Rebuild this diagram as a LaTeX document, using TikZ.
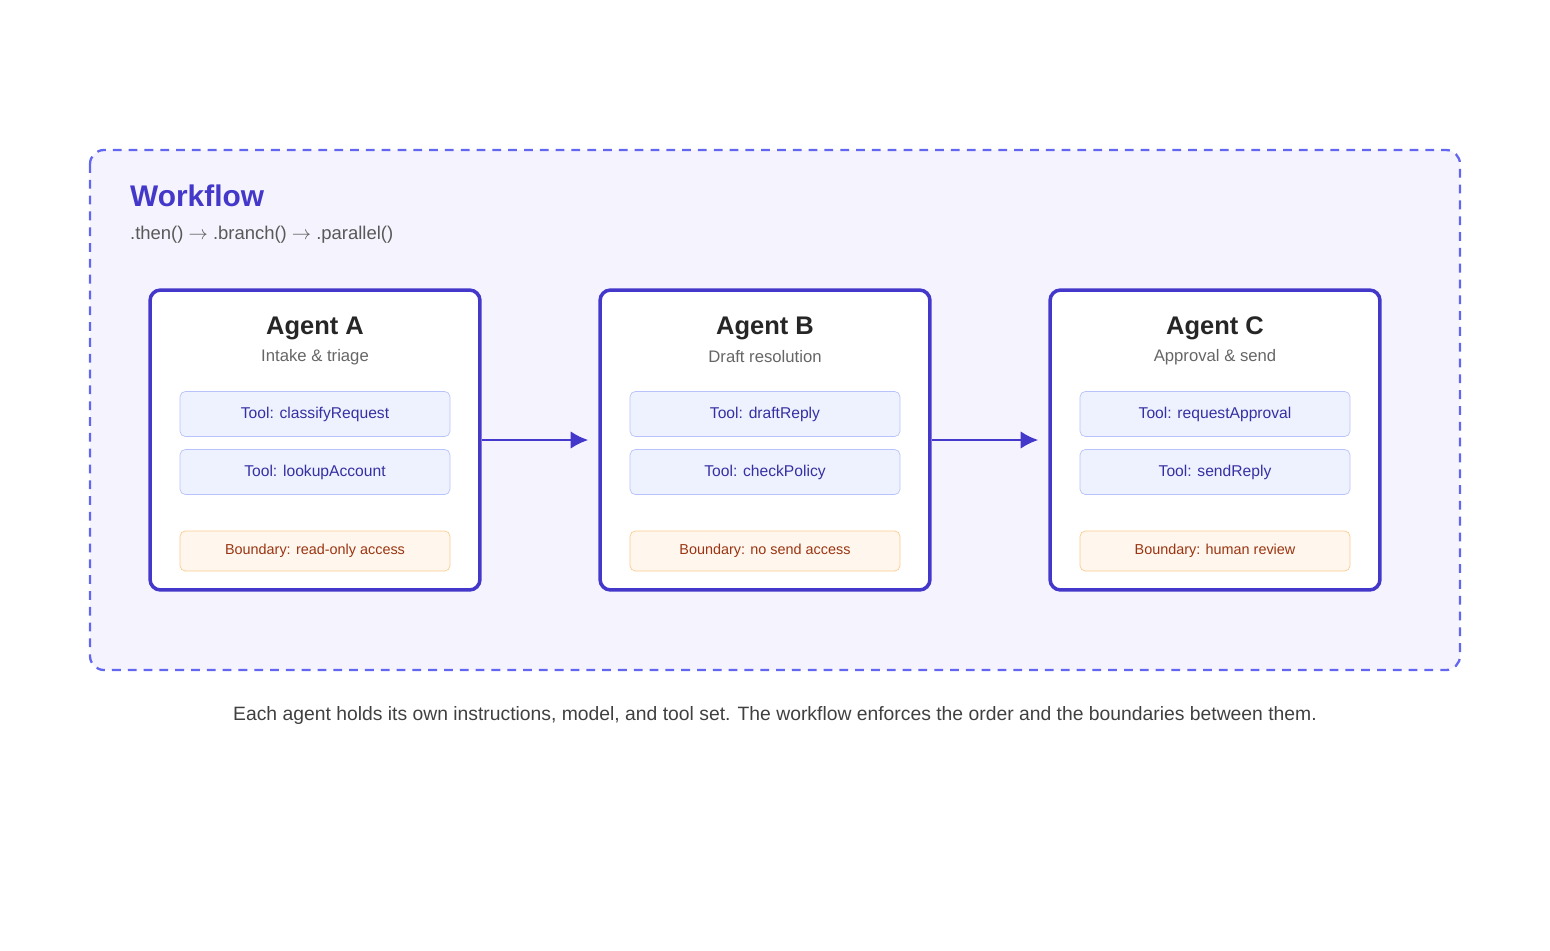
\documentclass[tikz,border=0pt]{standalone}
\usepackage{fontspec}
\setmainfont{Liberation Sans}
\usetikzlibrary{arrows.meta}
\definecolor{indigo}{HTML}{4338CA}
\definecolor{dashc}{HTML}{6366F1}
\definecolor{lav}{HTML}{F5F3FD}
\definecolor{toolfill}{HTML}{EEF2FF}
\definecolor{tooldraw}{HTML}{B9C3FB}
\definecolor{tooltext}{HTML}{3730A3}
\definecolor{bndfill}{HTML}{FFF7ED}
\definecolor{bnddraw}{HTML}{FCCB8E}
\definecolor{bndtext}{HTML}{9A3412}
\begin{document}
\begin{tikzpicture}[x=0.02cm, y=-0.02cm,
    agent/.style={draw=indigo, line width=2pt, fill=white, rounded corners=6pt, minimum width=6.6cm, minimum height=6cm, inner sep=0pt},
    tool/.style={draw=tooldraw, fill=toolfill, rounded corners=3pt, minimum width=5.4cm, minimum height=0.9cm, font=\fontsize{8.9}{10}\selectfont, text=tooltext},
    bound/.style={draw=bnddraw, fill=bndfill, rounded corners=3pt, minimum width=5.4cm, minimum height=0.8cm, font=\fontsize{8.2}{10}\selectfont, text=bndtext},
    arrow/.style={-{Latex[length=10pt,width=10pt]}, line width=1.5pt, indigo}
]
    \useasboundingbox (0,0) rectangle (1550,950);
    % Workflow frame
    \draw[dashc, line width=1.3pt, dash pattern=on 5pt off 4pt, fill=lav, rounded corners=8pt] (90,150) rectangle (1460,670);
    \node[anchor=west, font=\bfseries\fontsize{17}{20}\selectfont, text=indigo] (wf) at (124,196) {Workflow};
    \node[anchor=west, font=\fontsize{10.5}{12}\selectfont, text=black!65] (ops) at (124,235) {.then() $\rightarrow$ .branch() $\rightarrow$ .parallel()};

    % Agents
    \foreach \n/\x/\t/\s/\ta/\tb/\b in {A/315/Agent A/Intake \& triage/classifyRequest/lookupAccount/read-only access,
        B/765/Agent B/Draft resolution/draftReply/checkPolicy/no send access,
        C/1215/Agent C/Approval \& send/requestApproval/sendReply/human review} {
        \node[agent] (ag\n) at (\x,440) {};
        \node[font=\bfseries\fontsize{14.5}{17}\selectfont, text=black!85] (ti\n) at (\x,328) {\t};
        \node[font=\fontsize{9.5}{11}\selectfont, text=black!60] (su\n) at (\x,357) {\s};
        \node[tool] (ta\n) at (\x,414) {Tool: \ta};
        \node[tool] (tb\n) at (\x,472) {Tool: \tb};
        \node[bound] (bd\n) at (\x,551) {Boundary: \b};
    }

    % Flow
    \draw[arrow] (agA.east) -- ([xshift=-0.2cm]agB.west);
    \draw[arrow] (agB.east) -- ([xshift=-0.2cm]agC.west);

    % Caption
    \node[font=\fontsize{11}{13}\selectfont, text=black!75] (cap) at (775,715) {Each agent holds its own instructions, model, and tool set. The workflow enforces the order and the boundaries between them.};
\end{tikzpicture}
\end{document}
